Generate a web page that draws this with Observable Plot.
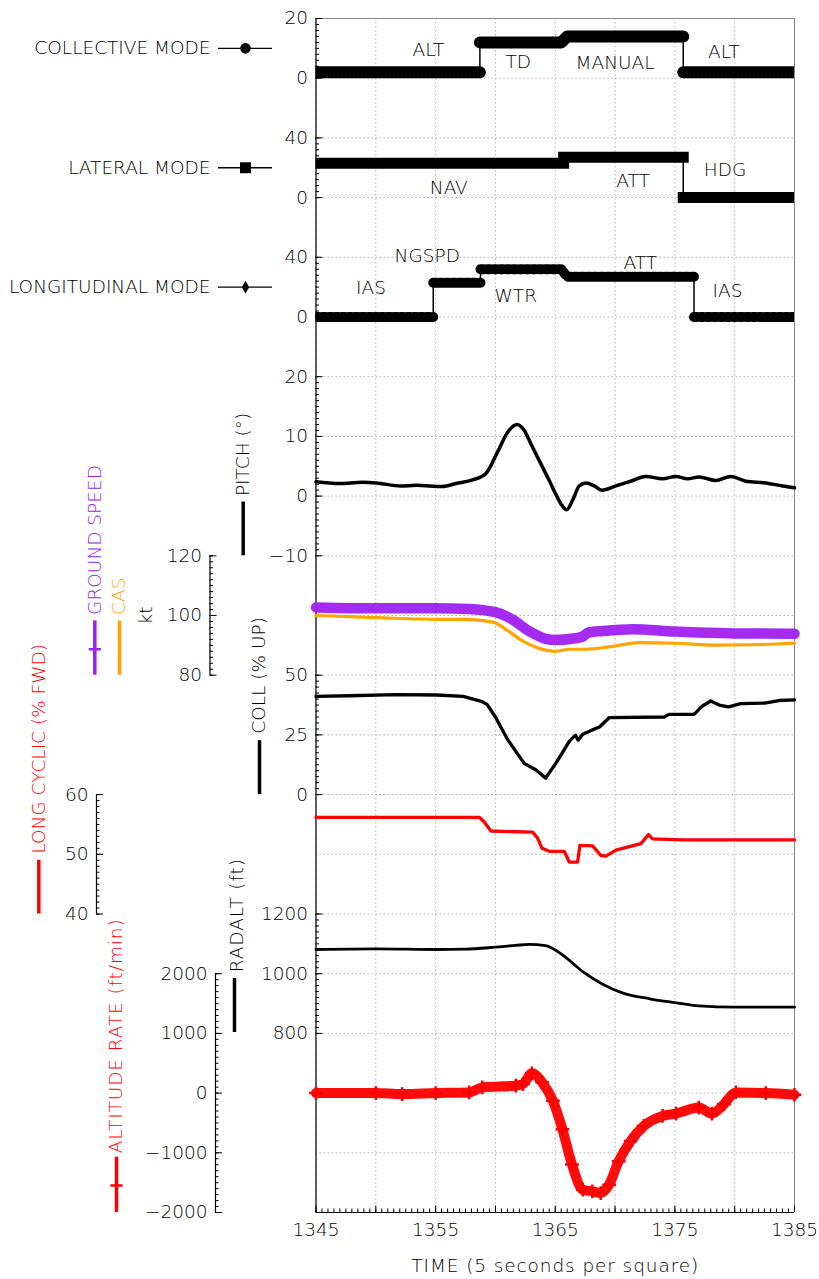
<!DOCTYPE html>
<html><head><meta charset="utf-8">
<script src="https://cdn.jsdelivr.net/npm/d3@7"></script>
<script src="https://cdn.jsdelivr.net/npm/@observablehq/plot@0.6"></script>
<style>
body{margin:0;background:#fff;}
#chart{position:relative;width:819px;height:1279px;}
#chart svg{position:absolute;left:0;top:0;overflow:visible;}
</style></head><body><div id="chart"></div><script>
// ---------------- DATA ----------------
const TIME_DOMAIN = [1345, 1385];
const timeTicks = [1345, 1355, 1365, 1375, 1385];

// Collective mode
const collectiveT = [1345, 1358.7, 1358.7, 1365.5, 1366.0, 1375.7, 1375.7, 1385];
const collectiveV = [2, 2, 12, 12, 14, 14, 2, 2];
const collectiveText = ["ALT", "TD", "MANUAL", "ALT"];
const collectiveTextT = [1354.4, 1361.9, 1370.0, 1379.1];
const collectiveTextV = [9.3, 5.3, 4.9, 8.6];

// Lateral mode
const lateralT = [1345, 1365.7, 1365.7, 1375.7, 1375.7, 1385];
const lateralV = [23, 23, 27, 27, 0, 0];
const lateralText = ["NAV", "ATT", "HDG"];
const lateralTextT = [1356.1, 1371.5, 1379.2];
const lateralTextV = [6.1, 10.8, 18.2];

// Longitudinal mode
const longitudinalT = [1345, 1354.8, 1354.8, 1358.75, 1358.75, 1365.5, 1366.0, 1376.6, 1376.6, 1385];
const longitudinalV = [0, 0, 23, 23, 32, 32, 27, 27, 0, 0];
const longitudinalText = ["IAS", "NGSPD", "WTR", "ATT", "IAS"];
const longitudinalTextT = [1349.6, 1354.3, 1361.7, 1372.1, 1379.4];
const longitudinalTextV = [19.1, 40.5, 13.7, 35.8, 17.1];

// Pitch (deg)
const pitchT = [1345, 1346.95, 1348.9, 1350.04, 1352.1, 1353.36, 1355.58, 1356.7, 1358.09, 1359.21, 1360.18, 1361.02, 1361.8, 1362.41, 1363.0, 1363.5, 1364.0, 1364.5, 1365.0, 1365.5, 1365.95, 1366.45, 1367.0, 1367.56, 1368.26, 1368.9, 1370.07, 1371.18, 1372.58, 1373.97, 1375.08, 1376.06, 1377.03, 1378.43, 1379.68, 1380.93, 1382.6, 1384.0, 1385];
const pitchV = [2.4, 2.1, 2.3, 2.2, 1.7, 1.8, 1.6, 2.1, 2.7, 3.8, 7.4, 10.7, 12.0, 11.0, 8.6, 6.6, 4.6, 2.6, 0.5, -1.4, -2.3, -0.7, 1.7, 2.2, 1.7, 1.0, 1.7, 2.4, 3.3, 2.9, 3.3, 2.9, 3.2, 2.6, 3.3, 2.5, 2.2, 1.7, 1.4];

// Ground speed (kt)
const groundSpeedT = [1345, 1350, 1355, 1357.8, 1360, 1361.4, 1362.8, 1364.2, 1365, 1366.5, 1367.2, 1367.8, 1369, 1371.5, 1375, 1380, 1385];
const groundSpeedV = [102.7, 102.4, 102.4, 102.2, 101.1, 98.7, 94.8, 92.2, 91.8, 92.3, 92.8, 94.3, 94.8, 95.4, 94.6, 94.0, 93.9];

// CAS (kt)
const casT = [1345, 1350, 1355, 1357.5, 1359.8, 1360.9, 1362.3, 1363.7, 1365, 1366.2, 1367.3, 1369, 1370.3, 1372, 1375, 1378.4, 1381.2, 1385];
const casV = [100, 99.3, 98.7, 98.7, 97.8, 95.3, 91.4, 88.9, 88.0, 88.7, 88.7, 89.2, 90.0, 90.9, 90.7, 90.1, 90.2, 90.7];

// Collective (% up)
const collT = [1345, 1347.8, 1351.7, 1355.1, 1357.3, 1358.9, 1359.3, 1360, 1361, 1362.4, 1363.4, 1364.2, 1365.1, 1366.2, 1366.7, 1366.9, 1367.3, 1368.1, 1368.7, 1369.5, 1374.1, 1374.5, 1376.6, 1377.3, 1378, 1378.7, 1379.5, 1380.5, 1382.5, 1383.7, 1385];
const collV = [41.1, 41.4, 41.9, 41.7, 41.1, 38.9, 37.8, 32.5, 23.2, 13.1, 10.3, 6.9, 13.5, 22.5, 24.9, 22.8, 25.3, 27.1, 28.3, 32.2, 32.5, 33.6, 33.6, 37.1, 39.2, 37.5, 36.7, 38.1, 38.3, 39.4, 39.7];

// Longitudinal cyclic (% fwd)
const cyclicT = [1345, 1358.65, 1359.07, 1359.62, 1363.1, 1363.5, 1363.9, 1364.5, 1365.75, 1366.17, 1366.87, 1367.06, 1368.12, 1368.82, 1369.23, 1370.07, 1371.04, 1372.16, 1372.8, 1373.13, 1375.64, 1385];
const cyclicV = [56.2, 56.2, 55.4, 53.9, 53.7, 52.8, 51.0, 50.5, 50.5, 48.7, 48.7, 51.5, 51.4, 49.8, 49.7, 50.7, 51.2, 51.8, 53.3, 52.6, 52.4, 52.4];

// Radar altitude (ft)
const radaltT = [1345, 1350, 1355.1, 1357.5, 1360, 1361.7, 1362.8, 1364.2, 1365.6, 1367.3, 1369, 1370.6, 1372.9, 1375, 1377, 1380, 1385];
const radaltV = [1081, 1083, 1081, 1082, 1089, 1095, 1098, 1094, 1063, 1007, 964, 936, 916, 903, 892, 888, 888];

// Altitude rate (ft/min)
const altRateT = [1345, 1350, 1352.2, 1355, 1357.8, 1358.9, 1361.7, 1362.3, 1363.05, 1363.9, 1364.8, 1365.6, 1366.4, 1367.3, 1368.1, 1368.8, 1369.5, 1370.3, 1371.3, 1372.4, 1373.97, 1375.1, 1377, 1378.1, 1379.1, 1380.1, 1382.6, 1385];
const altRateV = [0, 0, -17, 0, 11, 96, 124, 152, 331, 180, -129, -607, -1197, -1618, -1646, -1674, -1534, -1140, -803, -551, -382, -343, -242, -343, -185, 11, 0, -28];

// ---------------- LAYOUT ----------------
const W = 819, H = 1279;
const M = {left: 315.5, right: 25, top: 18, bottom: 67};
const SQ = (H - M.top - M.bottom) / 20;
const rowRange = (top, bottom) => [M.top + bottom * SQ, M.top + top * SQ];
const FONT = "'DejaVu Sans', sans-serif";
const FS = 18.5;
const PURPLE = "#A020F0", ORANGE = "#FFA500", RED = "#FF0000";
const GRID = "#b0b0b0";
const fmt = d3.format("d");

const rows = (T, V) => T.map((t, i) => ({t, v: V[i]}));
const withSegments = (data) => { let s = 0; return data.map((r, i) => { if (i && r.t === data[i - 1].t) s++; return {...r, seg: s}; }); };
const labels = (S, T, V) => S.map((s, i) => ({s, t: T[i], v: V[i]}));

function layer(domain, top, bottom, marks) {
  return Plot.plot({
    width: W, height: H,
    marginLeft: M.left, marginRight: M.right, marginTop: M.top, marginBottom: M.bottom,
    x: {domain: TIME_DOMAIN, axis: null},
    y: {domain, range: rowRange(top, bottom), axis: null},
    style: {background: "transparent", fontFamily: FONT, fontSize: FS + "px", fontWeight: 200, color: "black", overflow: "visible"},
    marks
  });
}
function yAxis(major, minor, dx = 0) {
  return [
    Plot.axisY({ticks: minor, anchor: "left", tickSize: -3.5, tickFormat: () => "", label: null, dx}),
    Plot.axisY({ticks: major, anchor: "left", tickSize: -7, tickPadding: 15, tickFormat: fmt, label: null, dx})
  ];
}
const spine = (lo, hi, dx) => Plot.ruleX([TIME_DOMAIN[0]], {y1: lo, y2: hi, dx, stroke: "black", strokeWidth: 1.2});
const vText = (text, y, dx, fill, anchor = "start", spacing = 0) => Plot.text([text], {text: d => d, y, frameAnchor: "left", dx, rotate: -90, textAnchor: anchor, fill, style: ""}) ;
const vSwatch = (y1, y2, dx, stroke) => Plot.ruleX([TIME_DOMAIN[0]], {y1, y2, dx, stroke, strokeWidth: 3.5});
const modeText = (data) => Plot.text(data, {x: "t", y: "v", text: "s", fill: "black"});
const thinStep = (data) => Plot.line(data, {x: "t", y: "v", stroke: "black", strokeWidth: 1.5, clip: true});

const chart = document.getElementById("chart");
const add = (svg) => chart.appendChild(svg);

// Base: grid, frame, time axis
add(layer([0, 20], 0, 20, [
  Plot.ruleY(d3.range(0, 21), {stroke: GRID, strokeDasharray: "1.5,2.5"}),
  Plot.ruleX(d3.range(1345, 1386, 5), {stroke: GRID, strokeDasharray: "1.5,2.5"}),
  Plot.ruleX([1385], {stroke: "#888"}),
  Plot.ruleY([20], {stroke: "#888"}),
  Plot.ruleX([1345], {stroke: "black", strokeWidth: 1.2}),
  Plot.ruleY([0], {stroke: "black", strokeWidth: 1.2}),
  Plot.axisX({ticks: d3.range(1345, 1385.01, 0.5), anchor: "bottom", tickSize: -3.5, tickFormat: () => "", label: null}),
  Plot.axisX({ticks: d3.range(1345, 1386, 5), anchor: "bottom", tickSize: -6.5, tickFormat: () => "", label: null}),
  Plot.axisX({ticks: timeTicks, anchor: "bottom", tickSize: 0, tickPadding: 10, tickFormat: fmt, label: null}),
  Plot.text(["TIME (5 seconds per square)"], {text: d => d, frameAnchor: "bottom", dy: 59})
]));

// Collective mode
const collData = withSegments(rows(collectiveT, collectiveV));
add(layer([0, 20], 0, 1, [
  thinStep(collData),
  Plot.line(collData, {x: "t", y: "v", z: "seg", stroke: "black", strokeWidth: 12, strokeLinecap: "round", strokeLinejoin: "round", clip: true}),
  modeText(labels(collectiveText, collectiveTextT, collectiveTextV)),
  ...yAxis([0, 20], d3.range(0, 20.01, 2)),
  Plot.text(["COLLECTIVE MODE"], {text: d => d, y: 10, frameAnchor: "left", dx: -105.5, textAnchor: "end"}),
  Plot.ruleY([10], {insetLeft: -97.5, insetRight: 522, stroke: "black", strokeWidth: 1.3}),
  Plot.dot([10], {y: d => d, frameAnchor: "left", dx: -70.5, r: 5.3, fill: "black", symbol: "circle"})
]));

// Lateral mode
const latData = withSegments(rows(lateralT, lateralV));
add(layer([0, 40], 2, 3, [
  thinStep(latData),
  Plot.line(latData, {x: "t", y: "v", z: "seg", stroke: "black", strokeWidth: 11, strokeLinecap: "square", clip: true}),
  modeText(labels(lateralText, lateralTextT, lateralTextV)),
  ...yAxis([0, 40], d3.range(0, 40.01, 4)),
  Plot.text(["LATERAL MODE"], {text: d => d, y: 20, frameAnchor: "left", dx: -105.5, textAnchor: "end"}),
  Plot.ruleY([20], {insetLeft: -97.5, insetRight: 522, stroke: "black", strokeWidth: 1.3}),
  Plot.dot([20], {y: d => d, frameAnchor: "left", dx: -70.5, r: 6.2, fill: "black", symbol: "square"})
]));

// Longitudinal mode
const lonData = withSegments(rows(longitudinalT, longitudinalV));
add(layer([0, 40], 4, 5, [
  thinStep(lonData),
  Plot.line(lonData, {x: "t", y: "v", z: "seg", stroke: "black", strokeWidth: 5.5, clip: true}),
  Plot.line(lonData, {x: "t", y: "v", z: "seg", stroke: "black", strokeWidth: 10, strokeDasharray: "3,3.5", clip: true}),
  modeText(labels(longitudinalText, longitudinalTextT, longitudinalTextV)),
  ...yAxis([0, 40], d3.range(0, 40.01, 4)),
  Plot.text(["LONGITUDINAL MODE"], {text: d => d, y: 20, frameAnchor: "left", dx: -105.5, textAnchor: "end"}),
  Plot.ruleY([20], {insetLeft: -97.5, insetRight: 522, stroke: "black", strokeWidth: 1.3}),
  Plot.dot([20], {y: d => d, frameAnchor: "left", dx: -70.5, r: 3.9, fill: "black", symbol: "diamond"})
]));

// Pitch
add(layer([-10, 20], 6, 9, [
  Plot.line(rows(pitchT, pitchV), {x: "t", y: "v", stroke: "black", strokeWidth: 3.5, curve: "monotone-x", strokeLinejoin: "round"}),
  ...yAxis([-10, 0, 10, 20], d3.range(-10, 20.01, 1)),
  vText("PITCH (°)", 0, -72.8, "black"),
  vSwatch(-10, -1, -72.8, "black")
]));

// Speeds (kt)
add(layer([80, 120], 9, 11, [
  Plot.line(rows(groundSpeedT, groundSpeedV), {x: "t", y: "v", stroke: PURPLE, strokeWidth: 10.5, curve: "monotone-x", strokeOpacity: 0.95}),
  Plot.line(rows(casT, casV), {x: "t", y: "v", stroke: ORANGE, strokeWidth: 3.2, curve: "monotone-x"}),
  spine(80, 120, -106),
  ...yAxis([80, 100, 120], d3.range(80, 120.01, 2), -106),
  vText("GROUND SPEED", 100.2, -221.2, PURPLE),
  vSwatch(80, 98.2, -221.2, PURPLE),
  Plot.dot([88.7], {y: d => d, frameAnchor: "left", dx: -221.2, r: 4, symbol: "plus", stroke: PURPLE, strokeWidth: 2.5}),
  vText("CAS", 100.2, -196.5, ORANGE),
  vSwatch(80, 98.2, -196.5, ORANGE),
  vText("kt", 100, -170, "black", "middle")
]));

// Collective (% up)
add(layer([0, 50], 11, 13, [
  Plot.line(rows(collT, collV), {x: "t", y: "v", stroke: "black", strokeWidth: 3.3, strokeLinejoin: "round"}),
  ...yAxis([0, 25, 50], d3.range(0, 50.01, 2.5)),
  vText("COLL (% UP)", 25.5, -56.5, "black"),
  vSwatch(0, 22.6, -56.5, "black")
]));

// Long cyclic (% fwd)
add(layer([40, 60], 13, 15, [
  Plot.line(rows(cyclicT, cyclicV), {x: "t", y: "v", stroke: RED, strokeWidth: 3.3, strokeLinejoin: "round"}),
  spine(40, 60, -219.5),
  ...yAxis([40, 50, 60], d3.range(40, 60.01, 1), -219.5),
  vText("LONG CYCLIC (% FWD)", 50.1, -277.2, RED),
  vSwatch(40, 49, -277.2, RED)
]));

// Radar altitude (ft)
add(layer([800, 1200], 15, 17, [
  Plot.line(rows(radaltT, radaltV), {x: "t", y: "v", stroke: "black", strokeWidth: 2.8, curve: "monotone-x"}),
  ...yAxis([800, 1000, 1200], d3.range(800, 1200.01, 20)),
  vText("RADALT (ft)", 1005, -78.5, "black"),
  vSwatch(803, 984, -81.5, "black")
]));

// Altitude rate (ft/min)
const altRows = rows(altRateT, altRateV);
add(layer([-2000, 2000], 16, 20, [
  Plot.line(altRows, {x: "t", y: "v", stroke: RED, strokeWidth: 10, curve: "monotone-x", strokeOpacity: 0.95}),
  Plot.dot(altRows, {x: "t", y: "v", r: 4.5, symbol: "plus", stroke: RED, strokeWidth: 2.5}),
  spine(-2000, 2000, -100.5),
  ...yAxis([-2000, -1000, 0, 1000, 2000], d3.range(-2000, 2000.01, 100), -100.5),
  vText("ALTITUDE RATE (ft/min)", -1007, -199.5, RED),
  vSwatch(-2000, -1073, -199.5, RED),
  Plot.dot([-1548], {y: d => d, frameAnchor: "left", dx: -199.5, r: 4, symbol: "plus", stroke: RED, strokeWidth: 2.5})
]));

// Wider letter spacing for labels containing lower-case text (as in the original stroke font)
chart.querySelectorAll("text").forEach(t => {
  if (/[a-z]/.test(t.textContent) && t.textContent.length > 3) t.setAttribute("letter-spacing", "0.9");
});
</script></body></html>
